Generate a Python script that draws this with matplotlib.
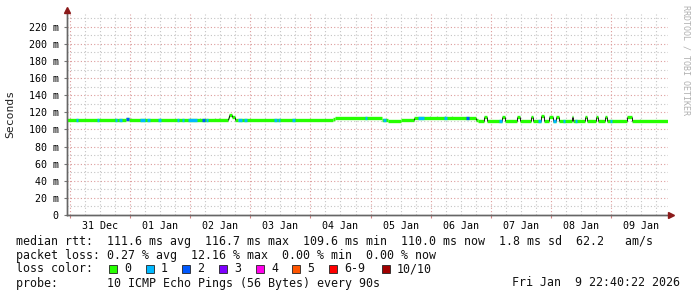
import numpy as np
import matplotlib
matplotlib.use('Agg')
import matplotlib.pyplot as plt
from matplotlib.patches import Rectangle

# hours since Dec 30 22:40 (graph start), 10 day window
t_end = 240.0

# median rtt in ms, step function: (start hour, value)
med_t = [0, 23.7, 25.0, 64.4, 65.0, 66.0, 67.2, 68.4, 106.3, 107.3, 125.9, 128.3,
         133.5, 138.6, 163.4, 164.2,
         166.6, 167.8, 173.8, 175.0, 179.8, 181.0, 185.4, 186.2, 189.4, 190.6,
         192.5, 194.1, 195.3, 196.5, 201.7, 202.3, 206.9, 207.7, 211.3, 212.1,
         214.9, 215.7, 223.7, 225.7]
med_v = [110.6, 112.3, 110.6, 113.5, 116.7, 114.5, 111.5, 110.6, 111.8, 113.0, 111.6, 110.4,
         111.2, 113.9, 110.8, 109.6,
         114.5, 109.6, 114.0, 109.6, 114.0, 109.6, 114.5, 109.6, 115.5, 109.6,
         114.0, 109.6, 114.0, 109.6, 114.0, 109.6, 114.5, 109.6, 114.0, 109.6,
         114.0, 109.6, 114.0, 109.6]

# packet loss events: start hour, end hour, lost pings (of 10)
loss_t0 = [3.6, 12.0, 19.2, 21.1, 23.9, 29.3, 32.3, 36.7, 43.9, 45.9, 48.5, 54.2, 55.5,
           68.4, 71.0, 83.0, 84.4, 90.0, 119.1, 126.3, 140.3, 150.8, 159.4, 172.7,
           188.3, 194.1, 198.1, 202.9, 216.7]
loss_t1 = [4.6, 13.0, 20.2, 22.1, 25.0, 31.3, 33.3, 37.7, 44.9, 46.9, 52.0, 55.2, 56.5,
           70.0, 72.0, 84.0, 85.4, 91.0, 120.1, 127.5, 142.7, 151.8, 160.6, 173.7,
           189.3, 195.3, 199.1, 203.9, 217.7]
loss_n = [1, 1, 1, 1, 2, 1, 1, 1, 1, 1, 1, 2, 1,
          1, 1, 1, 1, 1, 1, 1, 1, 1, 2, 1,
          1, 1, 1, 1, 1]

# smoke ticks: hour, low, high (ms)
smoke_t = [25.7, 53.3, 59.3, 60.8, 107.5, 145.1, 147.9, 151.1, 153.9, 229.0]
smoke_lo = [110.6, 110.6, 110.6, 110.6, 113.0, 113.9, 113.9, 113.9, 113.9, 109.6]
smoke_hi = [113.5, 113.5, 113.0, 113.5, 114.5, 116.2, 116.2, 116.2, 116.2, 112.0]

loss_colors = ['#26ff00', '#00b8ff', '#0059ff', '#7e00ff', '#ff00ea', '#ff5500', '#ff0000', '#a10000']
loss_labels = ['0', '1', '2', '3', '4', '5', '6-9', '10/10']

day_labels = ['31 Dec', '01 Jan', '02 Jan', '03 Jan', '04 Jan', '05 Jan', '06 Jan', '07 Jan', '08 Jan', '09 Jan']
first_midnight = 1 + 20 / 60.0

W, H = 697, 297
mono = 'DejaVu Sans Mono'
fig = plt.figure(figsize=(W / 100, H / 100), dpi=100)
fig.patch.set_facecolor('white')

L, R, T, B = 66.5, 667.9, 14, 215
ax = fig.add_axes([L / W, 1 - B / H, (R - L) / W, (B - T) / H])
ax.set_xlim(0, t_end)
ax.set_ylim(0, 235)

# grid
for y in range(10, 235, 10):
    if y % 20 == 0:
        ax.axhline(y, color='#dd9c9c', lw=0.8, ls=(0, (1, 2)), zorder=1)
    else:
        ax.axhline(y, color='#c4c4c4', lw=0.8, ls=(0, (1, 2)), zorder=1)
for k in range(0, 41):
    x = first_midnight + 6 * k - 6
    if x <= 0 or x >= t_end:
        continue
    if (k - 1) % 4 == 0:
        ax.axvline(x, color='#dd9c9c', lw=0.8, ls=(0, (1, 2)), zorder=1)
    else:
        ax.axvline(x, color='#c4c4c4', lw=0.8, ls=(0, (1, 2)), zorder=1)

def med_at(t):
    i = np.searchsorted(med_t, t, side='right') - 1
    return med_v[i]

# smoke
ax.vlines(smoke_t, smoke_lo, smoke_hi, color='#b0b0b0', lw=0.8, zorder=2)

# median line (green = no loss)
ends = med_t[1:] + [t_end]
ax.hlines(med_v, med_t, ends, color=loss_colors[0], lw=2.4, zorder=3)
# step edges
for i in range(1, len(med_t)):
    if abs(med_v[i] - med_v[i - 1]) > 2:
        ax.vlines(med_t[i], min(med_v[i], med_v[i - 1]), max(med_v[i], med_v[i - 1]),
                  color='#222222', lw=0.7, zorder=4)

# loss colored pieces
for a, b, n in zip(loss_t0, loss_t1, loss_n):
    ax.hlines(med_at(a), a, b, color=loss_colors[n], lw=2.4, zorder=5)

ax.set_yticks(range(0, 221, 20))
ax.set_yticklabels(['0'] + ['%d m' % v for v in range(20, 221, 20)], fontsize=7.2, family=mono)
ax.set_xticks([first_midnight + 24 * k for k in range(10)])
ax.set_xticklabels([])
ax.set_xticks([first_midnight + 12 + 24 * k for k in range(10)], minor=True)
ax.set_xticklabels(day_labels, minor=True, fontsize=7.2, family=mono)
ax.tick_params(axis='x', which='major', length=2.5, color='#d08080')
ax.tick_params(axis='x', which='minor', length=0, pad=4)
ax.tick_params(axis='y', length=2.5, color='#777777', pad=3)
for s in ['top', 'right']:
    ax.spines[s].set_visible(False)
for s in ['left', 'bottom']:
    ax.spines[s].set_color('#666666')
    ax.spines[s].set_linewidth(1.0)

# axis extensions with arrows
fig.add_artist(plt.Line2D([L / W, L / W], [1 - B / H, 1 - 11 / H], color='#666666', lw=1.0))
fig.add_artist(plt.Line2D([L / W, 669 / W], [1 - B / H, 1 - B / H], color='#666666', lw=1.0))
fig.add_artist(plt.Line2D([L / W], [1 - 10 / H], marker='^', color='#8b1a1a', ms=4.5, lw=0))
fig.add_artist(plt.Line2D([671 / W], [1 - B / H], marker='>', color='#8b1a1a', ms=4.5, lw=0))

fig.text(10 / W, 1 - 114 / H, 'Seconds', rotation=90, ha='center', va='center',
         fontsize=8.2, family=mono, color='#222222')
fig.text(686 / W, 1 - 5 / H, 'RRDTOOL / TOBI OETIKER', rotation=270, ha='center', va='top',
         fontsize=6, family=mono, color='#b0b0b0')

fs = 8.4
x0 = 16 / W
fig.text(x0, 1 - 241.5 / H,
         'median rtt:  111.6 ms avg  116.7 ms max  109.6 ms min  110.0 ms now  1.8 ms sd  62.2   am/s',
         fontsize=fs, family=mono, va='center', color='#111111')
fig.text(x0, 1 - 255 / H,
         'packet loss: 0.27 % avg  12.16 % max  0.00 % min  0.00 % now',
         fontsize=fs, family=mono, va='center', color='#111111')
fig.text(x0, 1 - 269 / H, 'loss color:', fontsize=fs, family=mono, va='center', color='#111111')
sq_x = [109, 145.7, 182.3, 219, 256, 292, 329, 381.7]
for sx, c, lab in zip(sq_x, loss_colors, loss_labels):
    fig.add_artist(Rectangle((sx / W, 1 - 273 / H), 8 / W, 8 / H, facecolor=c,
                             edgecolor='#222222', lw=0.6, transform=fig.transFigure))
    fig.text((sx + 15) / W, 1 - 269 / H, lab, fontsize=fs, family=mono, va='center', color='#111111')
fig.text(x0, 1 - 283 / H, 'probe:       10 ICMP Echo Pings (56 Bytes) every 90s',
         fontsize=fs, family=mono, va='center', color='#111111')
fig.text(680 / W, 1 - 283 / H, 'Fri Jan  9 22:40:22 2026', fontsize=fs, family=mono,
         va='center', ha='right', color='#111111')

fig.savefig('out.png', dpi=100)
